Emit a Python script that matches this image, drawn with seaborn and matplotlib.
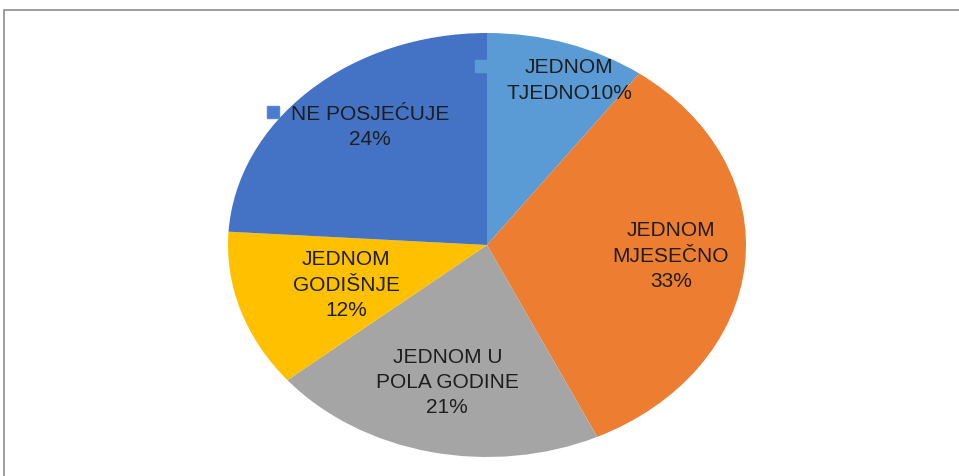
import matplotlib
matplotlib.use("Agg")
import matplotlib.pyplot as plt
import seaborn as sns
import numpy as np
from matplotlib.patches import Rectangle

categories = ["JEDNOM\nTJEDNO", "JEDNOM\nMJESEČNO", "JEDNOM U\nPOLA GODINE", "JEDNOM\nGODIŠNJE", "NE POSJEĆUJE"]
values = [10, 33, 21, 12, 24]
label_templates = ["{c}{p}%", "{c}\n{p}%", "{c}\n{p}%", "{c}\n{p}%", "{c}\n{p}%"]
colors = ["#5B9BD5", "#ED7D31", "#A5A5A5", "#FFC000", "#4472C4"]

sns.set_theme(style="white")
plt.rcParams['font.family'] = ['Liberation Sans', 'DejaVu Sans']

W, H = 959, 476
fig = plt.figure(figsize=(W / 100, H / 100), dpi=100)
fig.patch.set_facecolor("white")
ax = fig.add_axes([0, 0, 1, 1])

cx, cy, rx, ry = 487, 245, 259, 212
wedges, _ = ax.pie(values, colors=colors, startangle=90, counterclock=False,
                   radius=1, center=(0, 0), wedgeprops=dict(linewidth=0))
ax.set_aspect("auto")
ax.set_xlim((0 - cx) / rx, (W - cx) / rx)
ax.set_ylim((cy - H) / ry, (cy - 0) / ry)
ax.axis("off")

label_r = [0.838, 0.712, 0.666, 0.576, 0.717]
label_shift = [-4.2, 1.2, -0.7, 1.2, -4.1]
for i, (w, c, v) in enumerate(zip(wedges, categories, values)):
    mid = np.deg2rad((w.theta1 + w.theta2) / 2 + label_shift[i])
    x = label_r[i] * np.cos(mid)
    y = label_r[i] * np.sin(mid)
    txt = label_templates[i].format(c=c, p=v)
    ax.text(x, y, txt, ha="center", va="center", fontsize=15,
            color="#1E1E1E", linespacing=1.42)

# legend keys next to two labels
ax.plot([(273 - cx) / rx], [(cy - 112) / ry], marker="s", markersize=8.5,
        color="#4A7BD0", markeredgecolor="#5B86D6", linestyle="none")
ax.plot([(481 - cx) / rx], [(cy - 66) / ry], marker="s", markersize=8.5,
        color=colors[0], markeredgecolor=colors[0], linestyle="none")

fig.add_artist(Rectangle((4 / W, -0.1), 1.2, (H - 10) / H + 0.1,
                         transform=fig.transFigure, fill=False,
                         edgecolor="#8C8C8C", linewidth=1.2))

fig.savefig("out.png", dpi=100, facecolor="white")
